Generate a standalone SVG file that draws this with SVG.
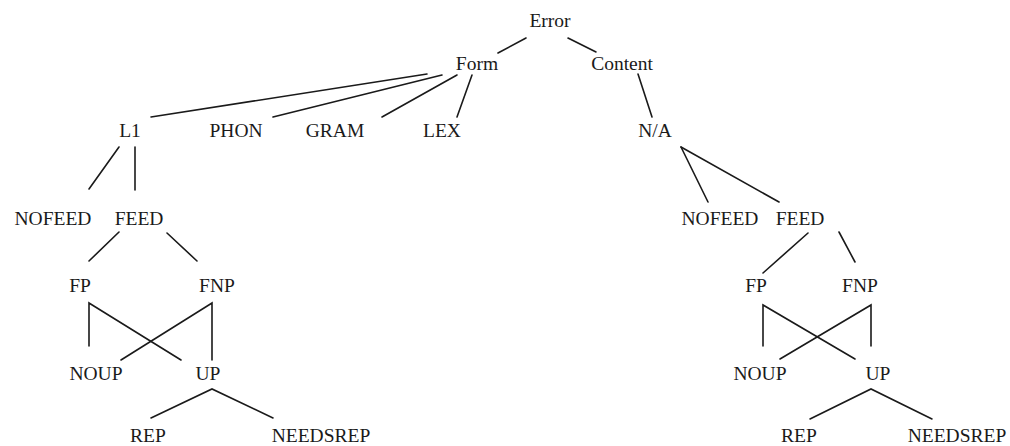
<svg xmlns="http://www.w3.org/2000/svg" width="1010" height="446" viewBox="0 0 1010 446">
<style>
text{font-family:"Liberation Serif","Times New Roman",serif;font-size:19.5px;fill:#1a1a1a;text-anchor:middle}
.e line,.e polyline{stroke:#1a1a1a;stroke-width:1.6;fill:none;stroke-linecap:round}
</style>
<rect width="1010" height="446" fill="#fff"/>
<g class="e" id="connectors">
<line x1="526" y1="38" x2="498" y2="53"/>
<line x1="568" y1="38" x2="596" y2="52"/>
<line x1="427" y1="74" x2="151" y2="117"/>
<line x1="442" y1="75" x2="273" y2="117"/>
<line x1="457" y1="75" x2="382" y2="117"/>
<line x1="472" y1="75" x2="457" y2="117"/>
<line x1="638" y1="74" x2="652" y2="117"/>
<line x1="119" y1="147" x2="89" y2="189"/>
<line x1="135" y1="147" x2="135" y2="190"/>
<line x1="681" y1="147" x2="708" y2="202"/>
<line x1="681" y1="147" x2="779" y2="202"/>
<line x1="119" y1="232" x2="89" y2="261"/>
<line x1="167" y1="233" x2="197" y2="261"/>
<line x1="808" y1="233" x2="763" y2="273"/>
<line x1="839" y1="232" x2="855" y2="262"/>
<polyline points="89,346 89,303 181,360"/>
<polyline points="212,360 212,303 121,360"/>
<polyline points="763,346 763,305 855,359"/>
<polyline points="871,346 871,305 780,359"/>
<polyline points="151,418 212,389 273,418"/>
<polyline points="810,419 871,389 932,419"/>
</g>
<g id="n-error"><text x="550" y="27">Error</text></g>
<g id="n-form"><text x="477" y="70">Form</text></g>
<g id="n-content"><text x="622" y="70">Content</text></g>
<g id="n-l1"><text x="130" y="137">L1</text></g>
<g id="n-phon"><text x="236" y="137">PHON</text></g>
<g id="n-gram"><text x="335" y="137">GRAM</text></g>
<g id="n-lex"><text x="442" y="137">LEX</text></g>
<g id="n-na"><text x="655" y="137">N/A</text></g>
<g id="n-nofeed1"><text x="53" y="225">NOFEED</text></g>
<g id="n-feed1"><text x="139" y="225">FEED</text></g>
<g id="n-nofeed2"><text x="720" y="225">NOFEED</text></g>
<g id="n-feed2"><text x="800" y="225">FEED</text></g>
<g id="n-fp1"><text x="80" y="292">FP</text></g>
<g id="n-fnp1"><text x="217" y="292">FNP</text></g>
<g id="n-fp2"><text x="756" y="292">FP</text></g>
<g id="n-fnp2"><text x="860" y="292">FNP</text></g>
<g id="n-noup1"><text x="96" y="380">NOUP</text></g>
<g id="n-up1"><text x="208" y="380">UP</text></g>
<g id="n-noup2"><text x="760" y="380">NOUP</text></g>
<g id="n-up2"><text x="878" y="380">UP</text></g>
<g id="n-rep1"><text x="148" y="442">REP</text></g>
<g id="n-needsrep1"><text x="321" y="442">NEEDSREP</text></g>
<g id="n-rep2"><text x="799" y="442">REP</text></g>
<g id="n-needsrep2"><text x="957" y="442">NEEDSREP</text></g>
</svg>
